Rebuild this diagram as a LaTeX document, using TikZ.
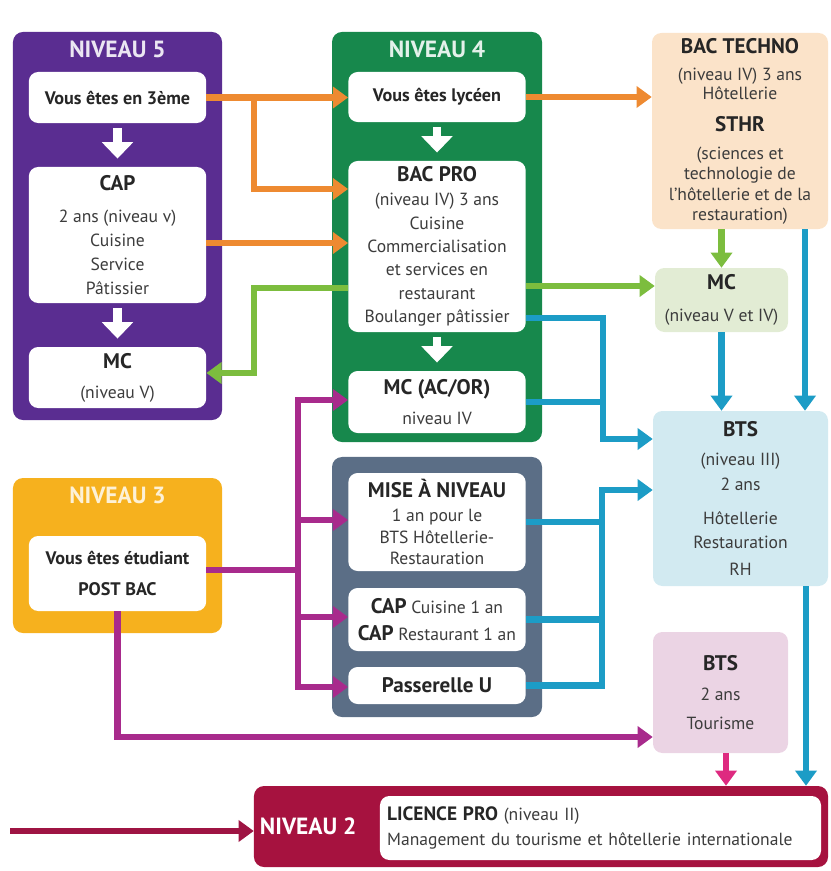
\documentclass[tikz,border=0pt]{standalone}
\usepackage{fontspec}
\setmainfont{PT Sans}
\usepackage{tikz}
\usetikzlibrary{arrows.meta, positioning}

\definecolor{violet5}{HTML}{5A2D91}
\definecolor{vert4}{HTML}{17884C}
\definecolor{ardoise}{HTML}{5B6E86}
\definecolor{jaune3}{HTML}{F6B11E}
\definecolor{rouge2}{HTML}{A6123F}
\definecolor{peche}{HTML}{FBE3C9}
\definecolor{vertpale}{HTML}{E2ECD4}
\definecolor{bleupale}{HTML}{D2EAF1}
\definecolor{rosepale}{HTML}{EBD4E4}
\definecolor{orangef}{HTML}{EE8A31}
\definecolor{vertf}{HTML}{7CBD3E}
\definecolor{bleuf}{HTML}{1C9CC6}
\definecolor{magentaf}{HTML}{A82A8C}
\definecolor{rosef}{HTML}{DE2A80}
\definecolor{rougef}{HTML}{9E1443}
\definecolor{bodytxt}{HTML}{3C3C3C}
\definecolor{headtxt}{HTML}{262626}

\newcommand{\hd}[1]{{\fontsize{18}{20}\selectfont\bfseries\color{headtxt}#1}}
\newcommand{\intro}{\fontsize{15.5}{19}\selectfont\bfseries\color{headtxt}}

\begin{document}
\begin{tikzpicture}[x=0.03cm, y=-0.03cm,
    panel/.style={rounded corners=0.3cm, inner sep=0pt},
    box/.style={fill=white, rounded corners=0.28cm, inner sep=0pt, minimum width=5.32cm,
                align=center, text=bodytxt, font=\fontsize{15}{19}\selectfont},
    ptitle/.style={inner sep=0pt, font=\fontsize{20}{22}\selectfont\bfseries},
    warr/.style={draw=white, line width=7pt, -{Triangle[width=26pt,length=14pt]},
                 shorten <=4pt, shorten >=7pt},
    cnx/.style={line width=5.5pt, -{Triangle[width=18pt,length=13pt]}},
    seg/.style={line width=5.5pt}]
\useasboundingbox (0,0) rectangle (830,871);

% panels
\node[panel, fill=violet5, minimum width=6.27cm, minimum height=11.64cm] (p_5) at (117.5,226) {};
\node[panel, fill=vert4, minimum width=6.3cm, minimum height=12.3cm] (p_4) at (437,237) {};
\node[panel, fill=ardoise, minimum width=6.3cm, minimum height=7.8cm] (p_mn) at (437,587) {};
\node[panel, fill=jaune3, minimum width=6.27cm, minimum height=4.65cm] (p_3) at (117.5,555.5) {};
\node[panel, fill=rouge2, minimum width=17.22cm, minimum height=2.43cm] (p_2) at (541,826.5) {};

\node[ptitle, text=violet5!12] (t_5) [below=0.27cm of p_5.north] {NIVEAU 5};
\node[ptitle, text=vert4!12] (t_4) [below=0.27cm of p_4.north] {NIVEAU 4};
\node[ptitle, text=jaune3!18] (t_3) [below=0.27cm of p_3.north] {NIVEAU 3};
\node[ptitle, text=white] (t_2) [right=0.18cm of p_2.west] {NIVEAU 2};

% niveau 5
\node[box, minimum height=1.53cm] (b_3eme) at (117.5,97.5) {\intro Vous êtes en 3ème};
\node[box, minimum height=4.08cm] (b_cap) at (117.5,235)
  {\hd{CAP}\\[8pt] 2 ans (niveau v)\\[1.5pt] Cuisine\\[1.5pt] Service\\[1.5pt] Pâtissier};
\node[box, minimum height=1.83cm] (b_mc5) at (117.5,377.5) {\hd{MC}\\[6.5pt] (niveau V)};

% niveau 4
\node[box, minimum height=1.5cm] (b_lycee) at (437,97) {\intro Vous êtes lycéen};
\node[box, minimum height=5.13cm] (b_bacpro) at (437,246.5)
  {\hd{BAC PRO}\\[1pt] (niveau IV) 3 ans\\[1.5pt] Cuisine\\[1pt] Commercialisation\\[1pt]
   et services en\\[1pt] restaurant\\[1pt] Boulanger pâtissier};
\node[box, minimum height=1.86cm] (b_mcac) at (437,402) {\hd{MC (AC/OR)}\\[6.5pt] niveau IV};

% mise a niveau
\node[box, minimum height=2.94cm] (b_mise) at (437,522)
  {\hd{MISE À NIVEAU}\\[1.5pt] 1 an pour le\\[-0.5pt] BTS Hôtellerie-\\[-0.5pt] Restauration};
\node[box, minimum height=1.89cm] (b_capc) at (437,619.5)
  {\hd{CAP} Cuisine 1 an\\[4pt] \hd{CAP} Restaurant 1 an};
\node[box, minimum height=1.11cm] (b_pass) at (437,685.5) {\hd{Passerelle U}};

% niveau 3
\node[box, minimum height=2.25cm] (b_post) at (117.5,573.5)
  {\intro Vous êtes étudiant\\[7.5pt] \intro POST BAC};

% colonne de droite
\node[box, fill=peche, minimum width=5.28cm, minimum height=5.88cm] (b_techno) at (740,131)
  {\hd{BAC TECHNO}\\[4pt] (niveau IV) 3 ans\\[-2pt] Hôtellerie\\[8pt] \hd{STHR}\\[5pt]
   (sciences et\\[-2.5pt] technologie de\\[-1pt] l'hôtellerie et de la\\[-2pt] restauration)};
\node[box, fill=vertpale, minimum width=3.99cm, minimum height=1.92cm] (b_mc) at (721.5,300)
  {\hd{MC}\\[8pt] (niveau V et IV)};
\node[box, fill=bleupale, minimum width=5.25cm, minimum height=5.25cm] (b_bts) at (740.5,498.5)
  {\hd{BTS}\\[6pt] (niveau III)\\[2pt] 2 ans\\[10pt] Hôtellerie\\[2pt] Restauration\\[4pt] RH};
\node[box, fill=rosepale, minimum width=4.05cm, minimum height=3.63cm] (b_btst) at (720.5,692.5)
  {\hd{BTS}\\[6.5pt] 2 ans\\[5.8pt] Tourisme};

% niveau 2
\node[box, minimum width=13.23cm, minimum height=1.92cm, text width=12.8cm, align=left] (b_lic) at (600.5,828)
  {{\fontsize{16.5}{19}\selectfont\bfseries\color{headtxt}LICENCE PRO} (niveau II)\\[2.3pt]
   Management du tourisme et hôtellerie internationale};

% points de jonction
\coordinate (o_1) at (254,189);
\coordinate (g_1) at (254,373);
\coordinate (u_1) at (603,439);
\coordinate (u_2) at (602,490);
\coordinate (m_1) at (298,400);
\coordinate (m_2) at (298,520);
\coordinate (m_3) at (298,570);
\coordinate (m_4) at (298,617);
\coordinate (m_5) at (298,687);
\coordinate (m_6) at (117.5,737);
\coordinate (r_0) at (10,831);

% fleches blanches
\draw[warr] (b_3eme) -- (b_cap);
\draw[warr] (b_cap) -- (b_mc5);
\draw[warr] (b_lycee) -- (b_bacpro);
\draw[warr] (b_bacpro) -- (b_mcac);

% orange
\draw[cnx, orangef] (b_3eme.east) -- (b_3eme.east -| b_lycee.west);
\draw[cnx, orangef] (b_3eme.east -| o_1) |- (b_bacpro.west |- o_1);
\draw[cnx, orangef] (b_cap.east |- 0,243) -- (b_bacpro.west |- 0,243);
\draw[cnx, orangef] (b_lycee.east) -- (b_lycee.east -| b_techno.west);

% vert
\draw[cnx, vertf] (b_bacpro.west |- 0,288) -| (g_1) -- (b_mc5.east |- g_1);
\draw[cnx, vertf] (b_bacpro.east |- 0,286) -- (b_mc.west |- 0,286);
\draw[cnx, vertf] (b_mc.north |- b_techno.south) -- (b_mc.north);

% bleu
\draw[cnx, bleuf] (b_bacpro.east |- 0,318) -| (u_1) -- (b_bts.west |- u_1);
\draw[seg, bleuf] (b_mcac.east) -- (b_mcac.east -| u_1);
\draw[cnx, bleuf] (b_pass.east) -| (u_2) -- (b_bts.west |- u_2);
\draw[seg, bleuf] (b_mise.east) -- (b_mise.east -| u_2);
\draw[seg, bleuf] (b_capc.east) -- (b_capc.east -| u_2);
\draw[cnx, bleuf] (b_mc.south) -- (b_mc.south |- b_bts.north);
\draw[cnx, bleuf] (805,0 |- b_techno.south) -- (805,0 |- b_bts.north);
\draw[cnx, bleuf] (806,0 |- b_bts.south) -- (806,0 |- p_2.north);

% magenta
\draw[seg, magentaf] (b_post.east |- m_3) -- (m_3);
\draw[cnx, magentaf] (m_5) |- (b_mcac.west |- m_1);
\draw[cnx, magentaf] (m_1) |- (b_pass.west |- m_5);
\draw[cnx, magentaf] (m_2) -- (b_mise.west |- m_2);
\draw[cnx, magentaf] (m_4) -- (b_capc.west |- m_4);
\draw[cnx, magentaf] (b_post.south) |- (b_btst.west |- m_6);
\draw[cnx, rosef] (726,0 |- b_btst.south) -- (726,0 |- p_2.north);
\draw[cnx, rougef] (r_0) -- (p_2.west |- r_0);
\end{tikzpicture}
\end{document}
